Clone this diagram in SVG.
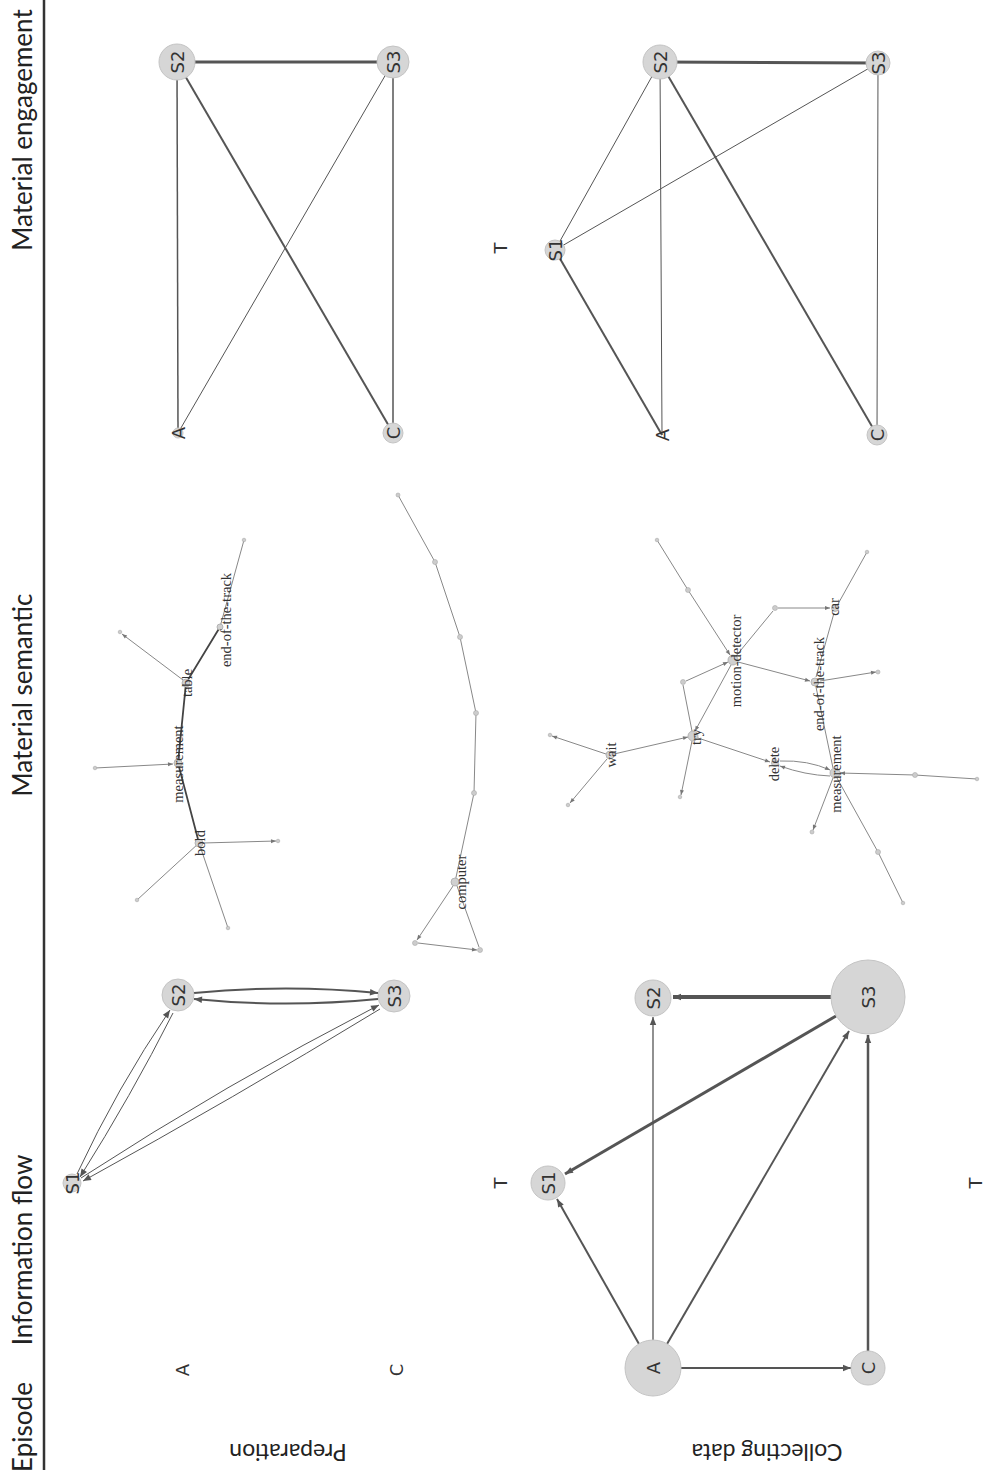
<svg xmlns="http://www.w3.org/2000/svg" width="983" height="1470" viewBox="0 0 983 1470">
<style>
.hdr{font-family:Lato,"Liberation Sans",sans-serif;font-size:26px;fill:#222}
.row{font-family:Lato,"Liberation Sans",sans-serif;font-size:23px;fill:#222}
.nl{font-family:"DejaVu Sans","Liberation Sans",sans-serif;font-size:18px;fill:#333}
.sl{font-family:"Liberation Serif","DejaVu Serif",serif;font-size:14.5px;fill:#333}
.nd{fill:#d6d6d6;stroke:#c4c4c4;stroke-width:1}
.sn{fill:#d0d0d0;stroke:#aaa;stroke-width:0.8}
.dot{fill:#ccc;stroke:#aaa;stroke-width:0.6}
.e{fill:none;stroke:#555}
.es{fill:none;stroke:#888;stroke-width:1}
.ed{fill:none;stroke:#444;stroke-width:1.8}
</style>
<defs>
<marker id="ah" viewBox="0 0 10 10" refX="10" refY="5" markerWidth="11" markerHeight="8" markerUnits="userSpaceOnUse" orient="auto"><path d="M0,1 L10,5 L0,9 z" fill="#555"/></marker>
<marker id="as" viewBox="0 0 10 10" refX="10" refY="5" markerWidth="7" markerHeight="5" markerUnits="userSpaceOnUse" orient="auto"><path d="M0,1 L10,5 L0,9 z" fill="#777"/></marker>
</defs>
<rect width="983" height="1470" fill="#fff"/>

<g id="header">
<line x1="44" y1="0" x2="44" y2="1470" stroke="#333" stroke-width="2.5"/>
<text class="hdr" text-anchor="middle" font-size="23" transform="translate(32,1427) rotate(-90)">Episode</text>
<text class="hdr" text-anchor="middle" transform="translate(32,1250) rotate(-90)">Information flow</text>
<text class="hdr" text-anchor="middle" transform="translate(32,695) rotate(-90)">Material semantic</text>
<text class="hdr" text-anchor="middle" transform="translate(32,130) rotate(-90)">Material engagement</text>
<text class="row" text-anchor="middle" transform="translate(288,1444) rotate(180)">Preparation</text>
<text class="row" text-anchor="middle" transform="translate(767,1444) rotate(180)">Collecting data</text>
</g>

<!-- Panel 1: Preparation / Information flow -->
<g id="p1-connectors">
<path class="e" stroke-width="2" d="M194,993 Q286,984 378,993" marker-end="url(#ah)"/>
<path class="e" stroke-width="2" d="M378,999 Q286,1008 194,999" marker-end="url(#ah)"/>
<path class="e" stroke-width="1" stroke="#777" d="M77,1174 Q117,1088 170,1010" marker-end="url(#ah)"/>
<path class="e" stroke-width="1" stroke="#777" d="M173,1013 Q131,1096 80,1177" marker-end="url(#ah)"/>
<path class="e" stroke-width="1" stroke="#777" d="M81,1178 Q226,1084 379,1005" marker-end="url(#ah)"/>
<path class="e" stroke-width="1" stroke="#777" d="M380,1009 Q234,1098 83,1181" marker-end="url(#ah)"/>
</g>
<g id="p1-S1"><circle class="nd" cx="72" cy="1183" r="9"/><text class="nl" text-anchor="middle" dominant-baseline="central" transform="translate(72,1183) rotate(-90)">S1</text></g>
<g id="p1-S2"><circle class="nd" cx="178" cy="995" r="16"/><text class="nl" text-anchor="middle" dominant-baseline="central" transform="translate(178,995) rotate(-90)">S2</text></g>
<g id="p1-S3"><circle class="nd" cx="394" cy="996" r="16"/><text class="nl" text-anchor="middle" dominant-baseline="central" transform="translate(394,996) rotate(-90)">S3</text></g>
<g id="p1-A"><text class="nl" text-anchor="middle" dominant-baseline="central" transform="translate(182,1370) rotate(-90)">A</text></g>
<g id="p1-C"><text class="nl" text-anchor="middle" dominant-baseline="central" transform="translate(396,1370) rotate(-90)">C</text></g>
<g id="p1-T"><text class="nl" text-anchor="middle" dominant-baseline="central" transform="translate(500,1183) rotate(-90)">T</text></g>

<!-- Panel 4: Collecting data / Information flow -->
<g id="p4-connectors">
<path class="e" stroke-width="4" d="M831,997 L673,997" marker-end="url(#ah)"/>
<path class="e" stroke-width="3" d="M836,1016 L565,1174" marker-end="url(#ah)"/>
<path class="e" stroke-width="2" d="M639,1344 L557,1199" marker-end="url(#ah)"/>
<path class="e" stroke-width="1.3" stroke="#666" d="M653,1340 L653,1017" marker-end="url(#ah)"/>
<path class="e" stroke-width="2" d="M667,1344 L849,1031" marker-end="url(#ah)"/>
<path class="e" stroke-width="2" d="M681,1368 L851,1368" marker-end="url(#ah)"/>
<path class="e" stroke-width="2.5" d="M868,1351 L868,1035" marker-end="url(#ah)"/>
</g>
<g id="p4-S1"><circle class="nd" cx="548" cy="1183" r="17"/><text class="nl" text-anchor="middle" dominant-baseline="central" transform="translate(548,1183) rotate(-90)">S1</text></g>
<g id="p4-S2"><circle class="nd" cx="653" cy="998" r="18"/><text class="nl" text-anchor="middle" dominant-baseline="central" transform="translate(653,998) rotate(-90)">S2</text></g>
<g id="p4-S3"><circle class="nd" cx="868" cy="997" r="37"/><text class="nl" text-anchor="middle" dominant-baseline="central" transform="translate(868,997) rotate(-90)">S3</text></g>
<g id="p4-A"><circle class="nd" cx="653" cy="1368" r="28"/><text class="nl" text-anchor="middle" dominant-baseline="central" transform="translate(653,1368) rotate(-90)">A</text></g>
<g id="p4-C"><circle class="nd" cx="868" cy="1368" r="17"/><text class="nl" text-anchor="middle" dominant-baseline="central" transform="translate(868,1368) rotate(-90)">C</text></g>
<g id="p4-T"><text class="nl" text-anchor="middle" dominant-baseline="central" transform="translate(975,1183) rotate(-90)">T</text></g>

<!-- Panel 3: Preparation / Material engagement -->
<g id="p3-connectors">
<line class="e" stroke-width="3" x1="177" y1="62" x2="393" y2="62"/>
<line class="e" stroke-width="1.5" stroke="#666" x1="177" y1="62" x2="178" y2="433"/>
<line class="e" stroke-width="2" x1="177" y1="62" x2="393" y2="433"/>
<line class="e" stroke-width="1" stroke="#999" x1="393" y1="62" x2="178" y2="433"/>
<line class="e" stroke-width="1.5" stroke="#666" x1="393" y1="62" x2="393" y2="433"/>
</g>
<g id="p3-S2"><circle class="nd" cx="177" cy="62" r="18"/><text class="nl" text-anchor="middle" dominant-baseline="central" transform="translate(177,62) rotate(-90)">S2</text></g>
<g id="p3-S3"><circle class="nd" cx="393" cy="62" r="16"/><text class="nl" text-anchor="middle" dominant-baseline="central" transform="translate(393,62) rotate(-90)">S3</text></g>
<g id="p3-A"><circle class="nd" cx="178" cy="433" r="5"/><text class="nl" text-anchor="middle" dominant-baseline="central" transform="translate(178,433) rotate(-90)">A</text></g>
<g id="p3-C"><circle class="nd" cx="393" cy="433" r="10"/><text class="nl" text-anchor="middle" dominant-baseline="central" transform="translate(393,433) rotate(-90)">C</text></g>
<g id="p3-T"><text class="nl" text-anchor="middle" dominant-baseline="central" transform="translate(500,248) rotate(-90)">T</text></g>

<!-- Panel 6: Collecting data / Material engagement -->
<g id="p6-connectors">
<line class="e" stroke-width="3" x1="660" y1="62" x2="878" y2="63"/>
<line class="e" stroke-width="1" stroke="#888" x1="660" y1="62" x2="555" y2="250"/>
<line class="e" stroke-width="1" stroke="#aaa" x1="660" y1="62" x2="662" y2="435"/>
<line class="e" stroke-width="2" x1="660" y1="62" x2="877" y2="435"/>
<line class="e" stroke-width="1" stroke="#888" x1="878" y1="63" x2="555" y2="250"/>
<line class="e" stroke-width="1" stroke="#999" x1="878" y1="63" x2="877" y2="435"/>
<line class="e" stroke-width="2" x1="555" y1="250" x2="662" y2="435"/>
</g>
<g id="p6-S1"><circle class="nd" cx="555" cy="250" r="10"/><text class="nl" text-anchor="middle" dominant-baseline="central" transform="translate(555,250) rotate(-90)">S1</text></g>
<g id="p6-S2"><circle class="nd" cx="660" cy="62" r="17"/><text class="nl" text-anchor="middle" dominant-baseline="central" transform="translate(660,62) rotate(-90)">S2</text></g>
<g id="p6-S3"><circle class="nd" cx="878" cy="63" r="12"/><text class="nl" text-anchor="middle" dominant-baseline="central" transform="translate(878,63) rotate(-90)">S3</text></g>
<g id="p6-A"><text class="nl" text-anchor="middle" dominant-baseline="central" transform="translate(662,435) rotate(-90)">A</text></g>
<g id="p6-C"><circle class="nd" cx="877" cy="435" r="10"/><text class="nl" text-anchor="middle" dominant-baseline="central" transform="translate(877,435) rotate(-90)">C</text></g>

<!-- Panel 2: Preparation / Material semantic -->
<g id="p2-connectors">
<path class="ed" d="M199,843 L178,763 L186,683 L220,627"/>
<path class="es" d="M220,627 L244,540"/>
<path class="es" d="M183,680 L122,634" marker-end="url(#as)"/>
<path class="es" d="M95,768 L173,764" marker-end="url(#as)"/>
<path class="es" d="M203,843 L276,841" marker-end="url(#as)"/>
<path class="es" d="M199,843 L137,900"/>
<path class="es" d="M199,843 L228,928"/>
<path class="es" d="M398,495 L435,562 L460,637 L476,713 L474,793 L455,882"/>
<path class="es" d="M453,886 L417,940" marker-end="url(#as)"/>
<path class="es" d="M418,943 L477,950" marker-end="url(#as)"/>
<path class="es" d="M479,947 L457,886"/>
</g>
<g id="p2-ends">
<circle class="dot" cx="244" cy="540" r="1.8"/><circle class="dot" cx="120" cy="632" r="1.8"/><circle class="dot" cx="95" cy="768" r="1.8"/>
<circle class="dot" cx="278" cy="841" r="1.8"/><circle class="dot" cx="137" cy="900" r="1.8"/><circle class="dot" cx="228" cy="928" r="1.8"/>
<circle class="dot" cx="398" cy="495" r="2"/><circle class="dot" cx="435" cy="562" r="2.5"/><circle class="dot" cx="460" cy="637" r="2.5"/>
<circle class="dot" cx="476" cy="713" r="2.5"/><circle class="dot" cx="474" cy="793" r="2.5"/><circle class="dot" cx="415" cy="943" r="2.5"/><circle class="dot" cx="480" cy="950" r="2.5"/>
</g>
<g id="p2-bold"><circle class="sn" cx="199" cy="843" r="4"/><text class="sl" text-anchor="middle" dominant-baseline="central" transform="translate(200,843) rotate(-90)">bold</text></g>
<g id="p2-measurement"><circle class="sn" cx="178" cy="763" r="4"/><text class="sl" text-anchor="middle" dominant-baseline="central" transform="translate(178,764) rotate(-90)">measurement</text></g>
<g id="p2-table"><circle class="sn" cx="186" cy="683" r="4"/><text class="sl" text-anchor="middle" dominant-baseline="central" transform="translate(187,683) rotate(-90)">table</text></g>
<g id="p2-end-of-the-track"><circle class="sn" cx="220" cy="627" r="3"/><text class="sl" text-anchor="middle" dominant-baseline="central" transform="translate(226,620) rotate(-90)">end-of-the-track</text></g>
<g id="p2-computer"><circle class="sn" cx="455" cy="882" r="4"/><text class="sl" text-anchor="middle" dominant-baseline="central" transform="translate(461,882) rotate(-90)">computer</text></g>

<!-- Panel 5: Collecting data / Material semantic -->
<g id="p5-connectors">
<path class="es" d="M614,754 L688,737" marker-end="url(#as)"/>
<path class="es" d="M698,738 L770,762" marker-end="url(#as)"/>
<path class="es" d="M780,761 Q808,760 830,770" marker-end="url(#as)"/>
<path class="es" d="M830,776 Q805,775 780,766" marker-end="url(#as)"/>
<path class="es" d="M692,731 L683,685"/>
<path class="es" d="M686,681 L728,662" marker-end="url(#as)"/>
<path class="es" d="M731,665 L695,731" marker-end="url(#as)"/>
<path class="es" d="M736,656 L773,611"/>
<path class="es" d="M778,608 L830,608" marker-end="url(#as)"/>
<path class="es" d="M738,662 L810,681" marker-end="url(#as)"/>
<path class="es" d="M816,677 L834,613"/>
<path class="es" d="M816,687 L833,768"/>
<path class="es" d="M657,540 L688,590 L730,655" marker-end="url(#as)"/>
<path class="es" d="M838,604 L867,552"/>
<path class="es" d="M820,681 L876,672" marker-end="url(#as)"/>
<path class="es" d="M977,779 L915,775 L840,773" marker-end="url(#as)"/>
<path class="es" d="M833,778 L813,830" marker-end="url(#as)"/>
<path class="es" d="M837,778 L878,852 L903,903"/>
<path class="es" d="M606,754 L552,736" marker-end="url(#as)"/>
<path class="es" d="M607,759 L570,803" marker-end="url(#as)"/>
<path class="es" d="M692,741 L681,795" marker-end="url(#as)"/>
</g>
<g id="p5-ends">
<circle class="dot" cx="683" cy="682" r="2.5"/><circle class="dot" cx="775" cy="608" r="2.5"/><circle class="dot" cx="657" cy="540" r="1.8"/>
<circle class="dot" cx="688" cy="590" r="2.5"/><circle class="dot" cx="867" cy="552" r="1.8"/><circle class="dot" cx="878" cy="672" r="2"/>
<circle class="dot" cx="977" cy="779" r="1.8"/><circle class="dot" cx="915" cy="775" r="2.5"/><circle class="dot" cx="812" cy="832" r="2"/>
<circle class="dot" cx="878" cy="852" r="2.5"/><circle class="dot" cx="903" cy="903" r="1.8"/><circle class="dot" cx="550" cy="735" r="1.8"/>
<circle class="dot" cx="568" cy="805" r="1.8"/><circle class="dot" cx="680" cy="797" r="1.8"/>
</g>
<g id="p5-wait"><circle class="sn" cx="610" cy="755" r="4"/><text class="sl" text-anchor="middle" dominant-baseline="central" transform="translate(611,755) rotate(-90)">wait</text></g>
<g id="p5-try"><circle class="sn" cx="693" cy="736" r="5"/><text class="sl" text-anchor="middle" dominant-baseline="central" transform="translate(696,737) rotate(-90)">try</text></g>
<g id="p5-motion-detector"><circle class="sn" cx="733" cy="660" r="5"/><text class="sl" text-anchor="middle" dominant-baseline="central" transform="translate(736,661) rotate(-90)">motion-detector</text></g>
<g id="p5-end-of-the-track"><circle class="sn" cx="815" cy="682" r="4"/><text class="sl" text-anchor="middle" dominant-baseline="central" transform="translate(819,684) rotate(-90)">end-of-the-track</text></g>
<g id="p5-car"><circle class="sn" cx="835" cy="608" r="3.5"/><text class="sl" text-anchor="middle" dominant-baseline="central" transform="translate(834,607) rotate(-90)">car</text></g>
<g id="p5-delete"><circle class="sn" cx="775" cy="763" r="3.5"/><text class="sl" text-anchor="middle" dominant-baseline="central" transform="translate(774,764) rotate(-90)">delete</text></g>
<g id="p5-measurement"><circle class="sn" cx="835" cy="773" r="5"/><text class="sl" text-anchor="middle" dominant-baseline="central" transform="translate(836,774) rotate(-90)">measurement</text></g>
</svg>
